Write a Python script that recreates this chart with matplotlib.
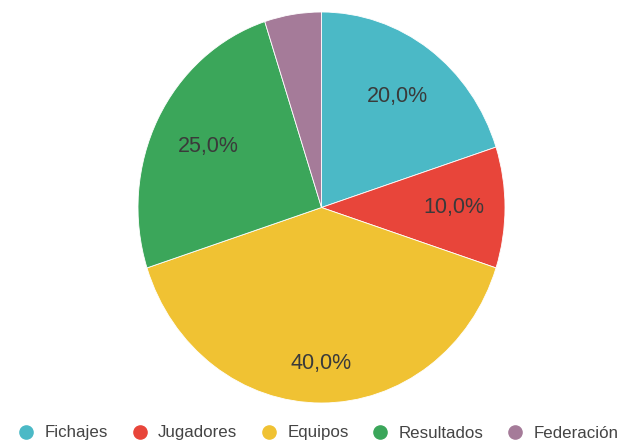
import numpy as np
import matplotlib.pyplot as plt
from matplotlib.lines import Line2D

plt.rcParams['font.family'] = ['Liberation Sans', 'DejaVu Sans']

categories = ['Fichajes', 'Jugadores', 'Equipos', 'Resultados', 'Federación']
shares = [20, 10, 40, 25, 5]
colors = ['#4bb9c6', '#e8453a', '#f0c233', '#3ba65a', '#a57b99']
# how far out each percentage sits inside its wedge
label_radius = [0.70, 0.72, 0.80, 0.69, 0.7]


def pct_label(p):
    if p < 6:
        return ''
    return f'{p:.1f}%'.replace('.', ',')


fig = plt.figure(figsize=(6.3, 4.45), dpi=100)
W, H = 630, 445
# pie area in pixels (slightly taller than wide)
left, right, top, bottom = 138, 505, 12, 403
ax = fig.add_axes([left / W, (H - bottom) / H, (right - left) / W, (bottom - top) / H])

wedges, texts, autotexts = ax.pie(
    shares, colors=colors, startangle=90, counterclock=False,
    autopct=pct_label, pctdistance=0.72,
    wedgeprops=dict(linewidth=0.6, edgecolor='white'),
    textprops=dict(fontsize=15.5, color='#3a3a3a'))

for w, t, r in zip(wedges, autotexts, label_radius):
    ang = np.deg2rad((w.theta1 + w.theta2) / 2)
    t.set_position((r * np.cos(ang), r * np.sin(ang)))

ax.set_aspect('auto')
ax.set_xlim(-1, 1)
ax.set_ylim(-1, 1)
ax.axis('off')

handles = [Line2D([], [], marker='o', linestyle='', markersize=9.5,
                  markerfacecolor=c, markeredgecolor=c) for c in colors]
fig.legend(handles, categories, loc='center', bbox_to_anchor=(0.505, (H - 433) / H),
           ncol=5, frameon=False, fontsize=12.2, handletextpad=0.6,
           columnspacing=1.35, handlelength=1.0, labelcolor='#444444',
           borderaxespad=0, borderpad=0)

fig.savefig('out.png', dpi=100)
